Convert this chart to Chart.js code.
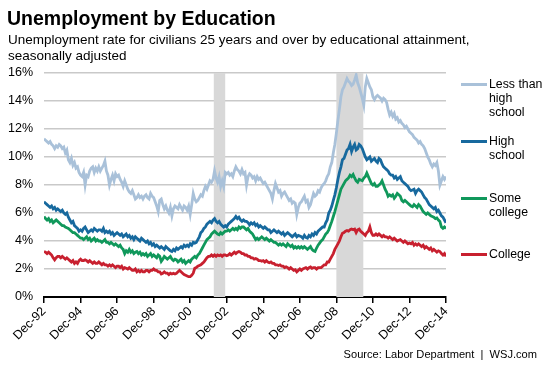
<!DOCTYPE html>
<html>
<head>
<meta charset="utf-8">
<script src="https://cdn.jsdelivr.net/npm/chart.js@4.4.1/dist/chart.umd.min.js"></script>
<style>
  html, body { margin: 0; padding: 0; background: #fff; }
  body { width: 553px; height: 369px; position: relative; overflow: hidden; font-family: "Liberation Sans", Arial, sans-serif; color: #000; }
  #wrap { position: absolute; left: 0; top: 0; width: 553px; height: 369px; }
  .title { position: absolute; left: 7px; top: 7px; font-size: 19.5px; font-weight: bold; line-height: 22px; white-space: nowrap; }
  .sub { position: absolute; left: 8px; top: 32px; font-size: 13.5px; line-height: 15.5px; white-space: nowrap; }
  .src { position: absolute; right: 16px; top: 347px; font-size: 11.1px; line-height: 14px; white-space: pre; }
  .leg { position: absolute; left: 489px; font-size: 12.3px; line-height: 14.2px; white-space: nowrap; }
  .legline { position: absolute; left: 461px; width: 26px; height: 3px; }
</style>
</head>
<body>
<div id="wrap"><canvas id="c" width="553" height="369"></canvas></div>
<div class="title">Unemployment by Education</div>
<div class="sub">Unemployment rate for civilians 25 years and over by educational attainment,<br>seasonally adjusted</div>
<div id="legend"></div>
<div class="src">Source: Labor Department  |  WSJ.com</div>
<script>
// ---- Data (monthly, Dec-92 through Dec-14) ----
const seriesNames = ["Less than high school", "High school", "Some college", "College"];
const legendLines = [["Less than", "high", "school"], ["High", "school"], ["Some", "college"], ["College"]];
const seriesColors = ["#a9c1d9", "#17699e", "#10985b", "#c8202f"];

const lessThanHS = [
  11.3,
  11.2, 11.1, 11.0, 11.1, 10.9, 10.8, 10.6, 10.8, 10.7, 10.9, 10.8, 10.6,
  10.7, 10.3, 10.5, 9.8, 9.6, 9.9, 9.4, 9.6, 9.2, 9.3, 8.9, 8.7,
  8.6, 8.9, 8.0, 8.7, 8.6, 9.0, 9.2, 9.3, 8.9, 9.2, 9.0, 9.3,
  9.0, 9.2, 9.4, 9.7, 9.0, 8.7, 8.0, 8.4, 8.7, 8.3, 8.8, 8.6,
  8.7, 8.4, 8.2, 7.9, 8.3, 8.0, 7.7, 7.5, 7.4, 7.6, 7.3, 7.0,
  7.1, 7.3, 7.1, 7.2, 7.0, 7.2, 7.3, 7.1, 7.0, 7.4, 7.2, 7.1,
  6.8, 6.5, 6.1, 6.9, 7.0, 6.6, 6.3, 6.5, 6.2, 6.0, 6.4, 5.8,
  6.3, 6.5, 6.4, 6.3, 6.6, 6.4, 6.2, 6.5, 6.4, 6.2, 6.5, 5.9,
  6.6, 7.4, 7.0, 6.8, 6.9, 7.1, 7.3, 7.2, 7.6, 7.9, 7.7, 8.0,
  8.3, 8.2, 8.4, 9.0, 8.5, 8.2, 8.6, 7.9, 8.3, 7.9, 8.9, 8.8,
  8.9, 8.7, 8.8, 8.6, 9.0, 9.3, 9.1, 9.0, 8.8, 9.1, 8.8, 8.9,
  8.0, 8.6, 8.8, 8.7, 8.5, 8.6, 8.3, 8.6, 8.4, 8.5, 8.3, 8.1,
  8.2, 8.0, 7.8, 7.6, 7.4, 7.0, 7.6, 8.1, 7.8, 7.5, 7.6, 7.2,
  7.4, 7.5, 7.3, 7.1, 6.9, 7.0, 6.7, 6.8, 6.7, 5.9, 6.4, 6.7,
  6.8, 7.0, 7.2, 6.8, 6.9, 6.4, 6.6, 7.0, 7.4, 7.2, 7.3, 7.6,
  7.5, 7.8, 8.0, 8.1, 8.3, 8.6, 8.8, 9.3, 9.6, 10.3, 10.9, 11.7,
  12.6, 13.4, 14.3, 14.8, 15.0, 15.3, 15.6, 15.4, 15.3, 15.1, 15.2, 15.5,
  15.85, 15.3, 15.0, 14.6, 14.2, 13.7, 15.0, 15.6, 15.3, 15.0, 14.8, 14.3,
  14.1, 14.3, 14.4, 14.3, 14.2, 14.0, 14.2, 14.1, 13.9, 13.4, 13.0, 13.2,
  12.9, 13.1, 12.7, 12.8, 12.5, 12.6, 12.4, 12.3, 12.1, 12.2, 12.0, 11.8,
  11.7, 11.6, 11.4, 11.3, 11.2, 11.0, 11.1, 10.9, 10.8, 10.6, 10.3, 10.0,
  9.8, 9.5, 9.3, 9.5, 9.4, 9.6, 9.0, 8.0, 8.3, 8.6, 8.4, 8.6
];
const highSchool = [
  6.8,
  6.7, 6.6, 6.5, 6.4, 6.5, 6.3, 6.4, 6.2, 6.3, 6.2, 6.1, 6.2,
  6.0, 5.9, 6.0, 5.7, 5.5, 5.3, 5.4, 5.1, 5.0, 4.9, 4.7, 4.8,
  4.7, 4.9, 5.0, 4.8, 4.6, 4.7, 4.8, 4.7, 4.9, 4.8, 4.7, 4.8,
  4.8, 4.7, 4.9, 4.6, 4.7, 4.6, 4.7, 4.5, 4.6, 4.4, 4.5, 4.6,
  4.5, 4.4, 4.5, 4.3, 4.4, 4.5, 4.3, 4.4, 4.2, 4.3, 4.1, 4.3,
  4.2, 4.1, 4.0, 4.2, 4.1, 4.0, 3.9, 4.0, 3.8, 3.9, 3.7, 3.8,
  3.6, 3.7, 3.6, 3.5, 3.6, 3.5, 3.4, 3.6, 3.5, 3.4, 3.3, 3.25,
  3.4, 3.3, 3.5, 3.4, 3.5, 3.6, 3.5, 3.7, 3.6, 3.7, 3.6, 3.8,
  3.7, 3.9, 3.85, 3.9, 4.1, 4.3, 4.6, 4.7, 4.9, 5.0, 5.2, 5.3,
  5.4, 5.3, 5.5, 5.6, 5.4, 5.3, 5.4, 5.2, 5.1, 5.0, 5.1, 5.0,
  5.2, 5.3, 5.4, 5.5, 5.6, 5.75, 5.6, 5.7, 5.5, 5.4, 5.5, 5.4,
  5.4, 5.3, 5.15, 5.3, 5.2, 5.3, 5.1, 5.2, 5.0, 5.1, 5.0, 4.9,
  5.0, 4.9, 4.8, 4.8, 4.6, 4.7, 4.8, 4.7, 4.6, 4.7, 4.6, 4.5,
  4.6, 4.4, 4.5, 4.6, 4.5, 4.4, 4.3, 4.4, 4.5, 4.3, 4.4, 4.35,
  4.3, 4.2, 4.4, 4.25, 4.2, 4.4, 4.3, 4.5, 4.4, 4.6, 4.5, 4.7,
  4.8, 4.9, 5.0, 5.0, 5.3, 5.5, 6.0, 6.2, 6.5, 6.9, 7.3, 7.8,
  8.4, 8.9, 9.3, 9.8, 9.9, 10.2, 10.5, 10.6, 10.9, 10.4, 10.7, 10.9,
  10.5, 10.6, 10.9, 10.8, 10.6, 10.3, 10.0, 9.8, 9.9, 10.0, 9.7, 9.8,
  9.9, 9.7, 9.6, 9.9, 9.8, 9.5, 9.3, 9.2, 9.1, 9.0, 8.8, 8.7,
  8.7, 8.5, 8.6, 8.4, 8.5, 8.6, 8.3, 8.2, 8.1, 8.0, 7.9, 7.7,
  7.6, 7.65, 7.7, 7.4, 7.6, 7.7, 7.6, 7.5, 7.3, 7.1, 7.0, 6.8,
  6.6, 6.5, 6.4, 6.3, 6.4, 6.1, 6.2, 6.0, 5.8, 5.7, 5.5, 5.3
];
const someCollege = [
  5.75,
  5.6, 5.5, 5.6, 5.4, 5.5, 5.3, 5.4, 5.5, 5.4, 5.3, 5.2, 5.1,
  5.1, 5.0, 4.95, 4.9, 4.8, 4.7, 4.6, 4.6, 4.5, 4.4, 4.3, 4.2,
  4.2, 4.1, 4.2, 4.3, 4.1, 4.2, 4.0, 4.1, 4.2, 4.0, 4.1, 4.0,
  4.0, 3.9, 4.0, 4.1, 3.9, 3.9, 3.8, 3.9, 3.8, 3.7, 3.8, 3.7,
  3.6, 3.7, 3.5, 3.4, 3.1, 3.3, 3.2, 3.4, 3.2, 3.3, 3.1, 3.2,
  3.25, 3.1, 3.2, 3.0, 3.1, 3.0, 3.1, 2.9, 3.0, 3.1, 2.9, 3.0,
  2.9, 2.8, 3.0, 2.9, 2.55, 2.7, 2.9, 2.8, 2.7, 2.8, 2.9, 2.7,
  2.6, 2.7, 2.65, 2.5, 2.6, 2.7, 2.5, 2.6, 2.4, 2.5, 2.6, 2.5,
  2.7, 2.8, 2.9, 2.8, 3.0, 3.1, 3.3, 3.5, 3.7, 3.9, 4.1, 4.2,
  4.3, 4.5, 4.6, 4.7, 4.6, 4.5, 4.45, 4.6, 4.5, 4.6, 4.7, 4.7,
  4.8, 4.7, 4.8, 4.9, 4.8, 4.9, 4.8, 5.0, 4.9, 5.0, 5.0, 4.9,
  4.8, 4.9, 4.7, 4.6, 4.5, 4.3, 4.1, 4.2, 4.1, 4.2, 4.3, 4.2,
  4.1, 4.2, 4.1, 4.0, 4.1, 4.0, 3.9, 3.9, 3.8, 3.7, 3.8, 3.7,
  3.8, 3.7, 3.6, 3.8, 3.7, 3.6, 3.7, 3.5, 3.6, 3.5, 3.6, 3.5,
  3.6, 3.5, 3.6, 3.5, 3.4, 3.5, 3.6, 3.4, 3.3, 3.25, 3.5, 3.7,
  3.85, 4.0, 4.1, 4.3, 4.5, 4.6, 4.8, 5.1, 5.4, 5.75, 6.1, 6.5,
  6.9, 7.3, 7.7, 7.9, 8.1, 8.3, 8.4, 8.5, 8.7, 8.6, 8.75, 8.5,
  8.3, 8.2, 8.4, 8.35, 8.3, 8.5, 8.6, 8.85, 8.6, 8.35, 8.1, 8.0,
  8.1, 7.9, 7.9, 8.0, 8.1, 8.3, 8.0, 7.7, 7.5, 7.2, 7.3, 7.2,
  7.3, 7.05, 7.2, 7.4, 7.3, 7.2, 6.9, 6.8, 6.9, 6.8, 6.7, 6.6,
  6.5, 6.45, 6.6, 6.5, 6.4, 6.6, 6.5, 6.3, 6.1, 6.0, 5.9, 6.0,
  5.9, 5.8, 5.75, 5.7, 5.6, 5.65, 5.5, 5.4, 5.0, 4.9, 5.0, 4.9
];
const college = [
  3.25,
  3.2, 3.1, 3.2, 3.1, 3.0, 2.8, 2.65, 2.8, 2.9, 2.9, 2.8, 2.9,
  2.8, 2.7, 2.8, 2.7, 2.6, 2.5, 2.6, 2.4, 2.5, 2.4, 2.6, 2.7,
  2.6, 2.6, 2.65, 2.6, 2.5, 2.6, 2.5, 2.4, 2.5, 2.4, 2.4, 2.5,
  2.4, 2.3, 2.4, 2.3, 2.3, 2.2, 2.3, 2.2, 2.3, 2.2, 2.1, 2.2,
  2.2, 2.1, 2.2, 2.0, 2.1, 2.05, 2.0, 2.1, 2.0, 1.9, 1.9, 2.0,
  1.8, 1.9, 1.8, 1.9, 1.8, 1.8, 1.9, 1.9, 1.8, 1.9, 1.9, 2.0,
  1.9, 1.9, 1.8, 1.8, 1.65, 1.7, 1.8, 1.7, 1.7, 1.6, 1.7, 1.65,
  1.7, 1.65, 1.7, 1.8, 1.9, 1.8, 1.7, 1.6, 1.55, 1.5, 1.45, 1.45,
  1.55, 1.7, 2.05, 2.1, 2.2, 2.25, 2.3, 2.4, 2.5, 2.65, 2.8, 2.9,
  2.9, 3.0, 2.9, 3.0, 2.9, 3.0, 2.95, 3.0, 2.9, 3.0, 3.0, 2.95,
  3.0, 3.1, 3.0, 3.1, 3.2, 3.1, 3.2, 3.25, 3.2, 3.1, 3.1, 3.0,
  3.0, 2.9, 2.9, 2.8, 2.8, 2.7, 2.75, 2.7, 2.6, 2.6, 2.55, 2.6,
  2.5, 2.6, 2.5, 2.45, 2.5, 2.4, 2.4, 2.3, 2.3, 2.25, 2.3, 2.2,
  2.2, 2.1, 2.15, 2.1, 2.0, 2.1, 2.0, 1.9, 1.95, 1.8, 1.9, 2.0,
  1.9, 2.0, 2.05, 2.1, 2.0, 2.1, 2.15, 2.05, 2.1, 2.1, 2.0, 2.1,
  2.1, 2.1, 2.2, 2.3, 2.3, 2.5, 2.5, 2.7, 2.9, 3.1, 3.4, 3.6,
  3.8, 4.0, 4.3, 4.55, 4.6, 4.7, 4.75, 4.7, 4.8, 4.85, 4.8, 4.85,
  4.6, 4.8, 4.85, 4.7, 4.6, 4.5, 4.4, 4.6, 4.7, 5.0, 4.6, 4.4,
  4.4, 4.5, 4.4, 4.5, 4.4, 4.3, 4.4, 4.3, 4.3, 4.2, 4.3, 4.2,
  4.1, 4.2, 4.1, 4.0, 4.05, 4.1, 4.0, 3.9, 4.0, 3.9, 3.8, 3.85,
  3.8, 3.9, 3.7, 3.8, 3.7, 3.8, 3.7, 3.6, 3.7, 3.5, 3.6, 3.5,
  3.4, 3.5, 3.3, 3.4, 3.3, 3.2, 3.3, 3.25, 3.1, 3.0, 3.1, 2.9
];

// Shaded periods, as month indexes from Dec-92 (as drawn in the original)
const shadedPeriods = [[111.5, 119], [192, 209.7]];

// Month labels Dec-92 ... Dec-14
const monthNames = ["Jan","Feb","Mar","Apr","May","Jun","Jul","Aug","Sep","Oct","Nov","Dec"];
const monthLabels = [];
for (let i = 0; i <= 264; i++) {
  const mi = (11 + i) % 12;
  const yr = 1992 + Math.floor((11 + i) / 12);
  monthLabels.push(monthNames[mi] + "-" + String(yr % 100).padStart(2, "0"));
}
const yTicks = [0, 2, 4, 6, 8, 10, 12, 14, 16];

// ---- Legend (HTML text) ----
const legendTops = [77, 134, 191, 247];
const legendEl = document.getElementById("legend");
legendLines.forEach((lines, i) => {
  const ln = document.createElement("div");
  ln.className = "legline";
  ln.style.top = (legendTops[i] + 5.6) + "px";
  ln.style.background = seriesColors[i];
  legendEl.appendChild(ln);
  const t = document.createElement("div");
  t.className = "leg";
  t.style.top = legendTops[i] + "px";
  t.innerHTML = lines.join("<br>");
  legendEl.appendChild(t);
});

// ---- Chart ----
const allSeries = [lessThanHS, highSchool, someCollege, college];
const datasets = allSeries.map((arr, i) => ({
  label: seriesNames[i],
  data: arr.map((v, k) => ({ x: k, y: v })),
  borderColor: seriesColors[i],
  borderWidth: 2.8,
  pointRadius: 0,
  tension: 0,
  fill: false
}));

const shadePlugin = {
  id: "shade",
  beforeDatasetsDraw(chart) {
    const { ctx, chartArea, scales } = chart;
    ctx.save();
    ctx.fillStyle = "#d8d8d8";
    shadedPeriods.forEach(([a, b]) => {
      const x1 = scales.x.getPixelForValue(a);
      const x2 = scales.x.getPixelForValue(b);
      ctx.fillRect(x1, chartArea.top, x2 - x1, chartArea.bottom - chartArea.top);
    });
    ctx.restore();
  }
};

Chart.defaults.font.family = '"Liberation Sans", Arial, sans-serif';
Chart.defaults.color = "#000";

new Chart(document.getElementById("c"), {
  type: "line",
  data: { datasets },
  options: {
    responsive: false,
    animation: false,
    devicePixelRatio: 1,
    layout: { padding: { left: 0, right: 107, top: 73, bottom: 0 } },
    plugins: { legend: { display: false }, tooltip: { enabled: false }, title: { display: false } },
    scales: {
      x: {
        type: "linear",
        min: 0, max: 264,
        afterFit(s) { s.height = 72; },
        afterBuildTicks(s) { s.ticks = monthLabels.map((l, i) => ({ value: i })).filter(t => t.value % 24 === 0); },
        ticks: {
          autoSkip: false,
          maxRotation: 45, minRotation: 45,
          padding: 1,
          font: { size: 12.5 },
          color: "#000",
          callback: (v) => monthLabels[v]
        },
        grid: { drawOnChartArea: false, drawTicks: true, tickLength: 6, color: "#000", lineWidth: 1.5 },
        border: { display: true, color: "#000", width: 2 }
      },
      y: {
        min: 0, max: 16,
        afterFit(s) { s.width = 44; },
        afterBuildTicks(s) { s.ticks = yTicks.map(v => ({ value: v })); },
        ticks: { padding: 11, font: { size: 12.5 }, color: "#000", callback: (v) => v + "%" },
        grid: {
          drawTicks: false,
          lineWidth: 1.5,
          color: (c) => (c.tick && c.tick.value === 0) ? "rgba(0,0,0,0)" : "#c9c9c9"
        },
        border: { display: false }
      }
    }
  },
  plugins: [shadePlugin]
});
</script>
</body>
</html>
